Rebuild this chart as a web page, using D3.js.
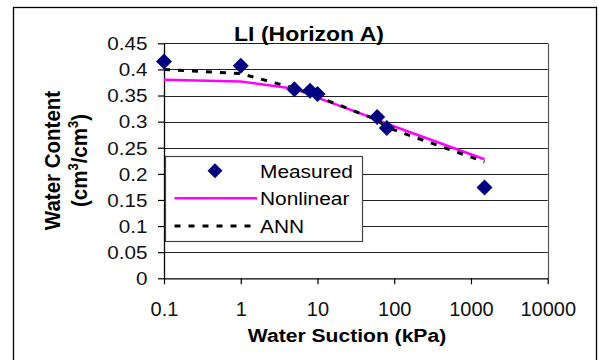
<!DOCTYPE html>
<html><head><meta charset="utf-8">
<script src="https://cdn.jsdelivr.net/npm/d3@7"></script>
<style>
html,body{margin:0;padding:0;background:#fff;}
svg{display:block;font-family:Arial,"Liberation Sans",sans-serif;}
</style></head>
<body><svg id="c" width="599" height="360"></svg>
<script>
// ---- data ----
const suction   = [0.1, 1, 5, 8, 10, 60, 80, 1500];
const measured  = [0.415, 0.407, 0.362, 0.359, 0.353, 0.309, 0.288, 0.174];
const nonlinear = [0.380, 0.377, 0.363, 0.352, 0.346, 0.304, 0.296, 0.228];
const ann       = [0.400, 0.392, 0.364, 0.354, 0.348, 0.303, 0.289, 0.223];
const xTicks = [0.1, 1, 10, 100, 1000, 10000];
const yTicks = [0, 0.05, 0.1, 0.15, 0.2, 0.25, 0.3, 0.35, 0.4, 0.45];
const seriesNames = ["Measured", "Nonlinear", "ANN"];
const titleText = "LI (Horizon A)";
const xTitle = "Water Suction (kPa)";

const svg = d3.select("#c");
const L = 164, R = 547.7, T = 43.3, B = 278.3;
const x = d3.scaleLog().domain([0.1, 10000]).range([L, R]);
const y = d3.scaleLinear().domain([0, 0.45]).range([B, T]);

// chart border
svg.append("rect").attr("x", 13.5).attr("y", 7.5).attr("width", 583).attr("height", 420)
  .attr("fill", "#fff").attr("stroke", "#000").attr("stroke-width", 1.3);

// gridlines
svg.append("g").selectAll("line").data(yTicks.filter(d => d > 0)).join("line")
  .attr("x1", L).attr("x2", R)
  .attr("y1", d => Math.round(y(d)) + 0.5).attr("y2", d => Math.round(y(d)) + 0.5)
  .attr("stroke", "#222").attr("stroke-width", 1);
// right border
svg.append("line").attr("x1", Math.round(R) + 0.5).attr("x2", Math.round(R) + 0.5)
  .attr("y1", T).attr("y2", B).attr("stroke", "#555").attr("stroke-width", 1.2);

// y axis
const yAxis = svg.append("g").attr("transform", `translate(${L},0)`)
  .call(d3.axisLeft(y).tickValues(yTicks).tickFormat(d => String(+d.toFixed(2))).tickSize(6).tickSizeOuter(0));
yAxis.select(".domain").attr("stroke", "#000").attr("stroke-width", 1.3);
yAxis.selectAll(".tick line").attr("stroke", "#000").attr("stroke-width", 1.2);
yAxis.selectAll(".tick text").attr("font-size", 17.5).attr("fill", "#111")
  .attr("font-family", "Arial, Liberation Sans, sans-serif")
  .attr("x", -14).attr("dy", "0.36em")
  .attr("transform", "scale(1.18,1)");

// x axis
const xAxis = svg.append("g").attr("transform", `translate(0,${B})`)
  .call(d3.axisBottom(x).tickValues(xTicks).tickFormat(d => String(d)).tickSize(6).tickSizeOuter(0));
xAxis.select(".domain").attr("stroke", "#000").attr("stroke-width", 1.3);
xAxis.selectAll(".tick line").attr("stroke", "#000").attr("stroke-width", 1.2);
xAxis.selectAll(".tick text").attr("font-size", 20).attr("fill", "#111")
  .attr("font-family", "Arial, Liberation Sans, sans-serif")
  .attr("y", 38).attr("dy", 0);

// lines
const pts = (vals) => suction.map((s, i) => [s, vals[i]]);
const line = d3.line().x(d => x(d[0])).y(d => y(d[1]));
svg.append("path").datum(pts(nonlinear)).attr("d", line)
  .attr("fill", "none").attr("stroke", "#ff00ff").attr("stroke-width", 2.5);
svg.append("path").datum(pts(ann)).attr("d", line)
  .attr("fill", "none").attr("stroke", "#000").attr("stroke-width", 3)
  .attr("stroke-dasharray", "6,8");

// diamonds
const diamond = (s) => `M0,${-s}L${s},0L0,${s}L${-s},0Z`;
svg.append("g").selectAll("path").data(pts(measured)).join("path")
  .attr("transform", d => `translate(${x(d[0])},${y(d[1])})`)
  .attr("d", diamond(8)).attr("fill", "#000080");

// title
svg.append("text").attr("transform", "translate(309,40.7) scale(1.18,1)")
  .attr("text-anchor", "middle").attr("font-size", 19.5).attr("font-weight", "bold")
  .attr("fill", "#000").text(titleText);

// x title
svg.append("text").attr("transform", "translate(347,341.7) scale(1.14,1)")
  .attr("text-anchor", "middle").attr("font-size", 18.5).attr("font-weight", "bold")
  .attr("fill", "#000").text(xTitle);

// y title
const yt1 = svg.append("text").attr("transform", "translate(60,160.5) scale(1.08,1) rotate(-90)")
  .attr("text-anchor", "middle").attr("font-size", 20.5).attr("font-weight", "bold")
  .attr("fill", "#000").text("Water Content");
const yt2 = svg.append("text").attr("transform", "translate(87,160.5) scale(1.08,1) rotate(-90)")
  .attr("text-anchor", "middle").attr("font-size", 20.5).attr("font-weight", "bold")
  .attr("fill", "#000");
yt2.append("tspan").text("(cm");
yt2.append("tspan").attr("font-size", 13).attr("dy", -8).text("3");
yt2.append("tspan").attr("dy", 8).text("/cm");
yt2.append("tspan").attr("font-size", 13).attr("dy", -8).text("3");
yt2.append("tspan").attr("dy", 8).text(")");

// legend
const lg = svg.append("g");
lg.append("rect").attr("x", 165.5).attr("y", 156.5).attr("width", 197).attr("height", 85)
  .attr("fill", "#fff").attr("stroke", "#444").attr("stroke-width", 1.2);
const rows = [170.7, 198.3, 226];
lg.append("path").attr("transform", `translate(215,${rows[0]})`).attr("d", diamond(7.5)).attr("fill", "#000080");
lg.append("line").attr("x1", 174.5).attr("x2", 257).attr("y1", rows[1]).attr("y2", rows[1])
  .attr("stroke", "#ff00ff").attr("stroke-width", 2.5);
lg.append("line").attr("x1", 174.5).attr("x2", 257).attr("y1", rows[2]).attr("y2", rows[2])
  .attr("stroke", "#000").attr("stroke-width", 3).attr("stroke-dasharray", "6,8");
seriesNames.forEach((n, i) => {
  lg.append("text").attr("transform", `translate(260,${rows[i] + 6.8}) scale(1.13,1)`)
    .attr("font-size", 18.5).attr("fill", "#000").text(n);
});
</script></body></html>
